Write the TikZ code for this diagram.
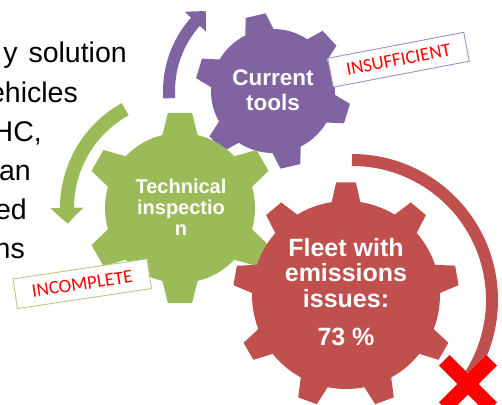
\documentclass[tikz,border=0pt]{standalone}
\usepackage{fontspec}
\setmainfont{Liberation Sans}
\newfontfamily\boxfont{Carlito}
\usetikzlibrary{calc,arrows.meta,bending}
\definecolor{gP}{HTML}{8064A2}
\definecolor{gG}{HTML}{9BBB59}
\definecolor{gR}{HTML}{C0504D}
\definecolor{xR}{HTML}{FF0000}
\definecolor{bP}{HTML}{A28CC4}
\definecolor{bG}{HTML}{B5CC80}
\newcommand\drawgear[7]{%
  \fill (#1) circle[radius=#4];
  \foreach \k in {1,...,#2}{%
    \pgfmathsetmacro\ga{#3+360/#2*(\k-1)}%
    \fill ($(#1)+(\ga-#6:#4-1)$) -- ($(#1)+(\ga-#7:#5)$) -- ($(#1)+(\ga+#7:#5)$) -- ($(#1)+(\ga+#6:#4-1)$) -- cycle;
  }%
}
\tikzset{
  ltext/.style={font=\fontsize{28.5}{35}\selectfont, text=black, inner sep=0pt, anchor=base east},
  gtext/.style={text=white, inner sep=0pt, anchor=base, font=\bfseries},
  tagbox/.style={fill=white, line width=0.9pt, inner sep=0pt, text=xR, font=\boxfont\fontsize{19}{22}\selectfont},
  arcline/.style={line width=12pt, line cap=butt}
}
\begin{document}
\begin{tikzpicture}[x=1pt,y=1pt]
\useasboundingbox (0,-404) rectangle (502,0);
\clip (0,-404) rectangle (502,0);
\fill[white] (0,-404) rectangle (502,0);
% left text
\node[ltext] (l1) at (127,-63) {y\hspace{11pt}solution};
\node[ltext] (l2) at (78,-102) {ehicles};
\node[ltext] (l3) at (42,-141) {HC,};
\node[ltext] (l4) at (31,-180) {an};
\node[ltext] (l5) at (27,-219) {ed};
\node[ltext] (l6) at (25,-258) {ns};
% centres
\coordinate (cP) at (273,-91);
\coordinate (cG) at (180,-208);
\coordinate (cR) at (346,-295);
\coordinate (aR) at (352,-300);
% purple gear
\begin{scope}[fill=gP]
\drawgear{cP}{6}{103}{62}{78}{14}{7.5}
\end{scope}
\draw[gP, arcline, -{Triangle[width=28pt,length=15pt,bend]}] ($(cP)+(184:104)$) arc[start angle=184, end angle=130, radius=104];
% green gear
\begin{scope}[fill=gG]
\drawgear{cG}{6}{90}{75}{96}{14}{7.2}
\end{scope}
\draw[gG, arcline, line width=14pt, -{Triangle[width=32pt,length=16pt,bend]}] ($(cG)+(119:113)$) arc[start angle=119, end angle=188, radius=113];
% red gear
\begin{scope}[fill=gR]
\drawgear{cR}{9}{90}{94}{113}{9}{5}
\end{scope}
\draw[gR, arcline] ($(aR)+(90:140)$) arc[start angle=90, end angle=-32, radius=140];
% red X
\coordinate (xc) at (468,-384);
\draw[xR, line width=15pt] ($(xc)+(-23.7,23.7)$) -- ($(xc)+(23.7,-23.7)$);
\draw[xR, line width=15pt] ($(xc)+(23.7,23.7)$) -- ($(xc)+(-23.7,-23.7)$);
% gear texts
\node[gtext] (tP) at (273,-85) {\fontsize{22.5}{25}\selectfont\begin{tabular}[t]{@{}c@{}}Current\\tools\end{tabular}};
\node[gtext] (tG) at (181,-193) {\fontsize{20}{21.3}\selectfont\begin{tabular}[t]{@{}c@{}}Technical\\inspectio\\n\end{tabular}};
\node[gtext] (tR) at (346,-256) {\fontsize{25}{25.5}\selectfont\begin{tabular}[t]{@{}c@{}}Fleet with\\emissions\\issues:\\[12.5pt]73 \%\end{tabular}};
% tags
\node[tagbox, draw=bP, rotate=10.8, minimum width=138.5pt, minimum height=29.4pt] (bI) at (398.5,-59.75) {INSUFFICIENT};
\node[tagbox, draw=bG, rotate=8.5, minimum width=135.5pt, minimum height=30pt] (bC) at (82.25,-283.75) {INCOMPLETE};
\end{tikzpicture}
\end{document}
